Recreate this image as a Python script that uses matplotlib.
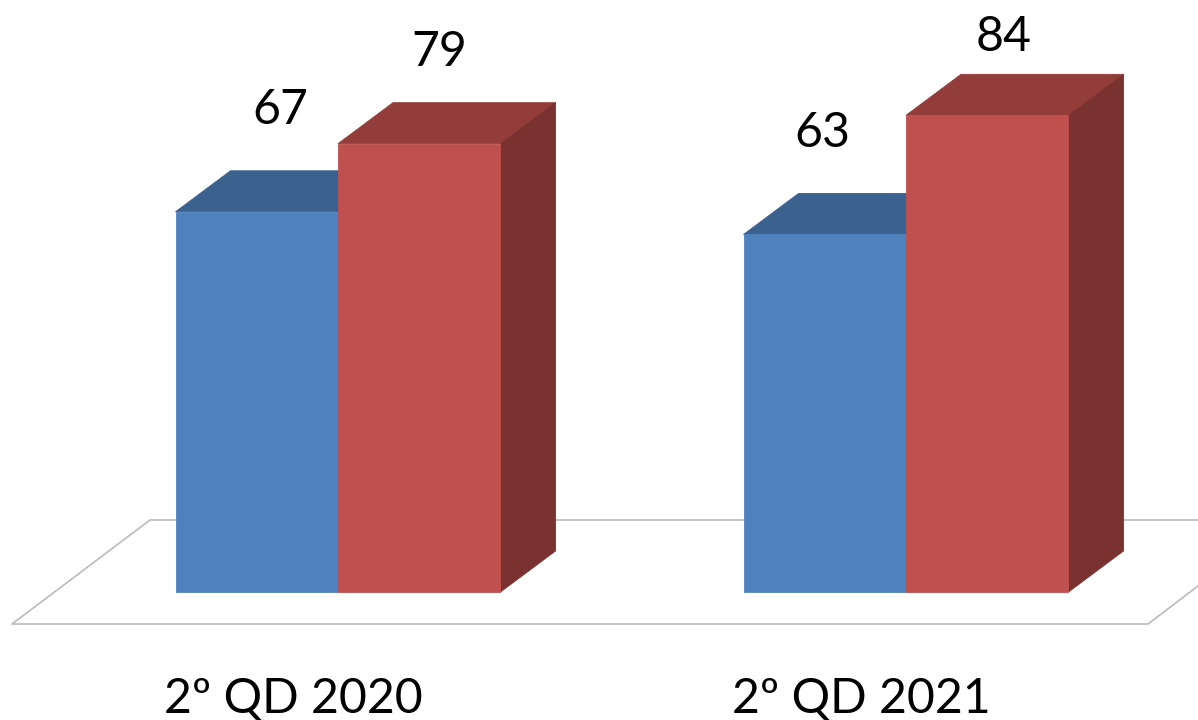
#!/usr/bin/env python3
"""2º QD 2020 vs 2021 fake-3D bar chart"""
import matplotlib
matplotlib.use('Agg')
import matplotlib.pyplot as plt
from matplotlib.patches import Polygon

categories = ['2º QD 2020', '2º QD 2021']
serie_azul = [67, 63]
serie_vermelha = [79, 84]

W, H = 1198, 720
PX_X = 568.0    # pixels per group
PX_Y = 5.675    # pixels per value unit
X0, Y0 = 338, 592

BAR_W = 162.5 / PX_X
DX = 55 / PX_X
DY = 41 / PX_Y
FS = 34.7

# label offsets from the bars (x in groups, y in value units)
azul_off = [(-0.102, 18.0), (-0.148, 17.9)]
verm_off = [(0.178, 16.2), (0.171, 13.8)]

def px(x, y):
    # pixel position -> data coords, only for the floor frame
    return (x - X0) / PX_X, (Y0 - y) / PX_Y

def bar3d(ax, left, value, front, top, side):
    right = left + BAR_W
    ax.add_patch(Polygon([(left, value), (right, value), (right + DX, value + DY), (left + DX, value + DY)],
                         facecolor=top, edgecolor=top, lw=0.6, zorder=2))
    ax.add_patch(Polygon([(right, 0), (right + DX, DY), (right + DX, value + DY), (right, value)],
                         facecolor=side, edgecolor=side, lw=0.6, zorder=2))
    ax.add_patch(Polygon([(left, 0), (right, 0), (right, value), (left, value)],
                         facecolor=front, edgecolor=front, lw=0.6, zorder=3))

fig = plt.figure(figsize=(W / 100, H / 100), dpi=100)
ax = fig.add_axes([0, 0, 1, 1])
ax.set_xlim(-X0 / PX_X, (W - X0) / PX_X)
ax.set_ylim((Y0 - H) / PX_Y, Y0 / PX_Y)
ax.axis('off')

# floor
floor_a = [px(1198, 520), px(150, 520), px(12, 624), px(1148, 624), px(1198, 586)]
ax.plot([p[0] for p in floor_a], [p[1] for p in floor_a], color='#BFBFBF', lw=1.3, zorder=1)

for i, cat in enumerate(categories):
    bar3d(ax, i - BAR_W, serie_azul[i], '#4F81BD', '#3B618E', '#335378')
    bar3d(ax, i, serie_vermelha[i], '#C0504D', '#923D3A', '#7A3230')

    ax.text(i + azul_off[i][0], serie_azul[i] + azul_off[i][1], str(serie_azul[i]),
            fontsize=FS, family='Lato', ha='center', va='center', color='black', zorder=4)
    ax.text(i + verm_off[i][0], serie_vermelha[i] + verm_off[i][1], str(serie_vermelha[i]),
            fontsize=FS, family='Lato', ha='center', va='center', color='black', zorder=4)
    ax.text(i - 0.078, -18.8, cat,
            fontsize=FS, family='Lato', ha='center', va='center', color='black', zorder=4)

plt.savefig('out.png', dpi=100)
plt.close()
